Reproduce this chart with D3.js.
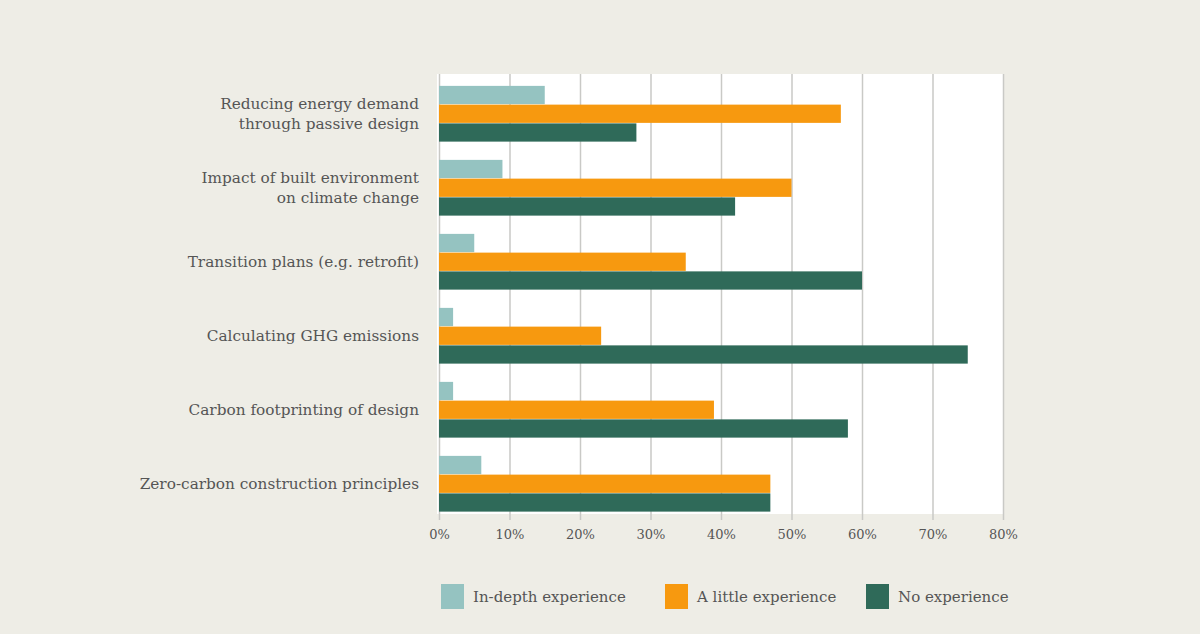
<!DOCTYPE html>
<html>
<head>
<meta charset="utf-8">
<script src="https://cdn.jsdelivr.net/npm/d3@7"></script>
<style>
    body { margin: 0; background: #eeede6; }
    text { font-family: "DejaVu Serif", serif; fill: #555; }
</style>
</head>
<body>
<div id="chart"></div>
<script>
//chart data
var categories = [
    ["Reducing energy demand", "through passive design"],
    ["Impact of built environment", "on climate change"],
    ["Transition plans (e.g. retrofit)"],
    ["Calculating GHG emissions"],
    ["Carbon footprinting of design"],
    ["Zero-carbon construction principles"]
];
var seriesNames = ["In-depth experience", "A little experience", "No experience"];
var inDepth = [15, 9, 5, 2, 2, 6];
var aLittle = [57, 50, 35, 23, 39, 47];
var noExp = [28, 42, 60, 75, 58, 47];
var tickValues = [0, 10, 20, 30, 40, 50, 60, 70, 80];

var colors = ["#95c3c1", "#f7990f", "#2f6a59"];

//svg dimensions
var svgW = 1200;
var svgH = 634;

var svg = d3.select("#chart").append("svg")
    .attr("width", svgW)
    .attr("height", svgH);

svg.append("rect")
    .attr("width", svgW)
    .attr("height", svgH)
    .attr("fill", "#eeede6");

//plot area
var plot = { left: 439, right: 1003, top: 74, bottom: 514 };

var keys = categories.map((c, i) => i);
var values = [inDepth, aLittle, noExp];

var x = d3.scaleLinear()
    .domain([0, 80])
    .range([plot.left, plot.right]);

var y0 = d3.scaleBand()
    .domain(keys)
    .range([77, 521])
    .paddingInner(0.24)
    .paddingOuter(0.12);

var y1 = d3.scaleBand()
    .domain([0, 1, 2])
    .range([0, y0.bandwidth()]);

//white plot background
svg.append("rect")
    .attr("x", plot.left - 2)
    .attr("y", plot.top)
    .attr("width", plot.right - plot.left + 3)
    .attr("height", plot.bottom - plot.top)
    .attr("fill", "#ffffff");

//x axis with gridlines
var xAxis = svg.append("g")
    .attr("transform", `translate(0, ${plot.bottom + 6})`)
    .call(d3.axisBottom(x)
        .tickValues(tickValues)
        .tickSizeInner(-(plot.bottom + 6 - plot.top))
        .tickSizeOuter(0)
        .tickFormat(d => d + "%"));

xAxis.select(".domain").remove();
xAxis.selectAll(".tick line")
    .attr("stroke", "#c9c9c6")
    .attr("stroke-width", 1.5);
xAxis.selectAll(".tick text")
    .attr("font-size", "13px")
    .attr("font-family", "DejaVu Serif, serif")
    .attr("fill", "#666")
    .attr("dy", "0.75em")
    .attr("y", 9);

//bars
var groups = svg.selectAll(".group")
    .data(keys)
    .enter()
    .append("g")
    .attr("transform", d => `translate(0, ${y0(d)})`);

groups.selectAll("rect")
    .data(k => values.map((s, j) => ({ s: j, v: s[k] })))
    .enter()
    .append("rect")
    .attr("x", x(0))
    .attr("y", d => y1(d.s))
    .attr("width", d => x(d.v) - x(0))
    .attr("height", y1.bandwidth() - 0.5)
    .attr("fill", d => colors[d.s]);

//category labels
var labels = svg.selectAll(".label")
    .data(keys)
    .enter()
    .append("text")
    .attr("text-anchor", "end")
    .attr("font-size", "15.3px")
    .attr("x", 419)
    .attr("y", d => y0(d) + y0.bandwidth() / 2);

labels.selectAll("tspan")
    .data(k => categories[k].map((line, i, arr) => ({ line: line, i: i, n: arr.length })))
    .enter()
    .append("tspan")
    .attr("x", 419)
    .attr("dy", d => d.i === 0 ? (0.35 - (d.n - 1) * 0.65) + "em" : "1.3em")
    .text(d => d.line);

//legend
var legendX = [441, 665, 866];
var legend = svg.selectAll(".legend")
    .data(seriesNames)
    .enter()
    .append("g")
    .attr("transform", (d, i) => `translate(${legendX[i]}, 584)`);

legend.append("rect")
    .attr("width", 23)
    .attr("height", 25)
    .attr("fill", (d, i) => colors[i]);

legend.append("text")
    .attr("x", 32)
    .attr("y", 13)
    .attr("dy", "0.35em")
    .attr("font-size", "15px")
    .text(d => d);
</script>
</body>
</html>
